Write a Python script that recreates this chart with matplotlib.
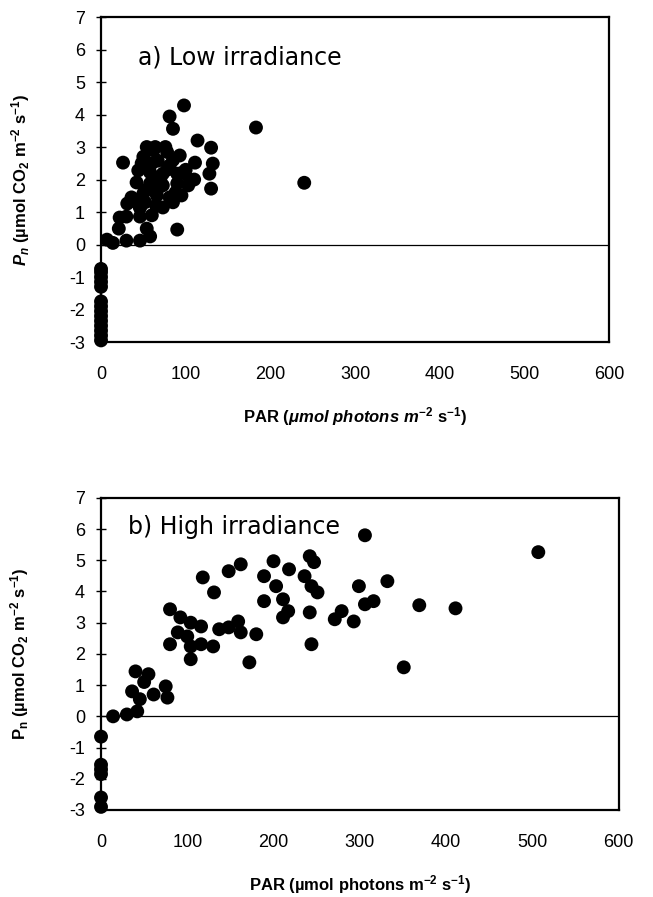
import numpy as np
import matplotlib
matplotlib.use("Agg")
import matplotlib.pyplot as plt

plt.rcParams['font.family'] = ['Liberation Sans', 'DejaVu Sans']
plt.rcParams['mathtext.fontset'] = 'custom'
plt.rcParams['mathtext.rm'] = 'Liberation Sans:bold'
plt.rcParams['mathtext.it'] = 'Liberation Sans:italic:bold'
plt.rcParams['mathtext.bf'] = 'Liberation Sans:bold'
plt.rcParams['axes.unicode_minus'] = False

# a) low irradiance: PAR and net photosynthesis
low_par = [0, 0, 0, 0, 0, 0, 0, 0, 0, 0, 0, 0, 0, 0,
           7, 14, 54, 46, 30, 21, 30, 46, 58, 22, 31, 36, 46, 42,
           54, 64, 78, 50, 67, 81, 44, 58, 73, 90, 42, 58, 73, 90, 103,
           50, 66, 81, 95, 46, 73, 36,
           60, 70, 85, 55, 65, 100, 105, 85, 48, 62, 76, 68, 52, 95, 110, 78, 88, 60,
           26, 81, 85, 98, 93, 111, 114, 130, 132, 128, 130, 90, 183, 240]
low_pn = [-0.75, -0.85, -1.0, -1.15, -1.3, -1.75, -1.9, -2.05, -2.2, -2.35, -2.5, -2.65, -2.8, -2.95,
          0.15, 0.05, 0.49, 0.86, 0.86, 0.49, 0.12, 0.12, 0.25, 0.83, 1.26, 1.45, 1.14, 1.3,
          3.0, 3.0, 2.85, 2.7, 2.58, 2.43, 2.28, 2.22, 2.18, 2.18, 1.91, 1.88, 1.82, 1.88, 1.82,
          1.57, 1.51, 1.45, 1.51, 1.14, 1.14, 1.4,
          2.5, 2.0, 2.6, 1.7, 1.2, 2.3, 2.0, 1.3, 2.5, 2.9, 3.0, 1.75, 1.3, 2.2, 2.0, 2.3, 1.6, 0.9,
          2.52, 3.94, 3.56, 4.28, 2.74, 2.52, 3.2, 2.98, 2.49, 2.18, 1.72, 0.46, 3.6, 1.9]

# b) high irradiance
high_par = [0, 0, 0, 0, 0, 0,
            14, 30, 42, 40, 55, 36, 45, 61, 75, 77, 50,
            306, 118, 131, 80, 148, 162, 200, 189, 203, 218, 242, 247, 236, 244, 251,
            189, 211, 217, 211, 242, 244, 172,
            92, 104, 116, 100, 89, 80, 104, 116, 130, 104,
            137, 148, 159, 162, 180,
            507, 299, 332, 271, 279, 293, 306, 316, 369, 411, 351]
high_pn = [-0.65, -1.55, -1.7, -1.85, -2.6, -2.9,
           0.0, 0.06, 0.16, 1.44, 1.35, 0.8, 0.55, 0.7, 0.96, 0.6, 1.1,
           5.8, 4.45, 3.97, 3.43, 4.65, 4.87, 4.97, 4.49, 4.17, 4.71, 5.13, 4.94, 4.49, 4.17, 3.97,
           3.69, 3.75, 3.37, 3.17, 3.33, 2.31, 1.73,
           3.17, 3.0, 2.88, 2.56, 2.69, 2.31, 2.24, 2.31, 2.24, 1.83,
           2.79, 2.85, 3.04, 2.69, 2.63,
           5.26, 4.17, 4.33, 3.11, 3.37, 3.04, 3.59, 3.69, 3.56, 3.46, 1.57]

x_ticks = [0, 100, 200, 300, 400, 500, 600]
y_ticks = [-3, -2, -1, 0, 1, 2, 3, 4, 5, 6, 7]

fig = plt.figure(figsize=(6.53, 8.97), dpi=100)
ax_a = fig.add_axes([0.1547, 0.6187, 0.778, 0.3623])
ax_b = fig.add_axes([0.1547, 0.097, 0.7925, 0.348])

panels = [
    (ax_a, low_par, low_pn, "a) Low irradiance", (0.073, 0.874),
     r"$P_n$ (µmol CO$_2$ m$^{-2}$ s$^{-1}$)",
     r"PAR ($\mu mol\ photons\ m^{-2}$ s$^{-1}$)"),
    (ax_b, high_par, high_pn, "b) High irradiance", (0.053, 0.907),
     r"P$_\mathrm{n}$ (µmol CO$_2$ m$^{-2}$ s$^{-1}$)",
     r"PAR (µmol photons m$^{-2}$ s$^{-1}$)"),
]

for ax, xs, ys, title, tpos, ylab, xlab in panels:
    ax.scatter(xs, ys, s=100, color='black', edgecolors='none', zorder=3, clip_on=False)
    ax.axhline(0, color='black', lw=0.9, zorder=2)
    ax.set_xlim(0, 600)
    ax.set_ylim(-3, 7)
    ax.set_xticks(x_ticks)
    ax.set_yticks(y_ticks)
    ax.tick_params(axis='y', direction='inout', length=7, width=1, labelsize=13, pad=8)
    ax.tick_params(axis='x', length=0, labelsize=13, pad=17)
    for sp in ax.spines.values():
        sp.set_linewidth(1.6)
    ax.text(tpos[0], tpos[1], title, transform=ax.transAxes, fontsize=17,
            family='DejaVu Sans', va='center', ha='left')
    ax.set_ylabel(ylab, fontsize=12, fontweight='bold')
    ax.yaxis.set_label_coords(-0.135, 0.5)
    ax.set_xlabel(xlab, fontsize=12, fontweight='bold', labelpad=16)

fig.savefig("out.png", dpi=100)
